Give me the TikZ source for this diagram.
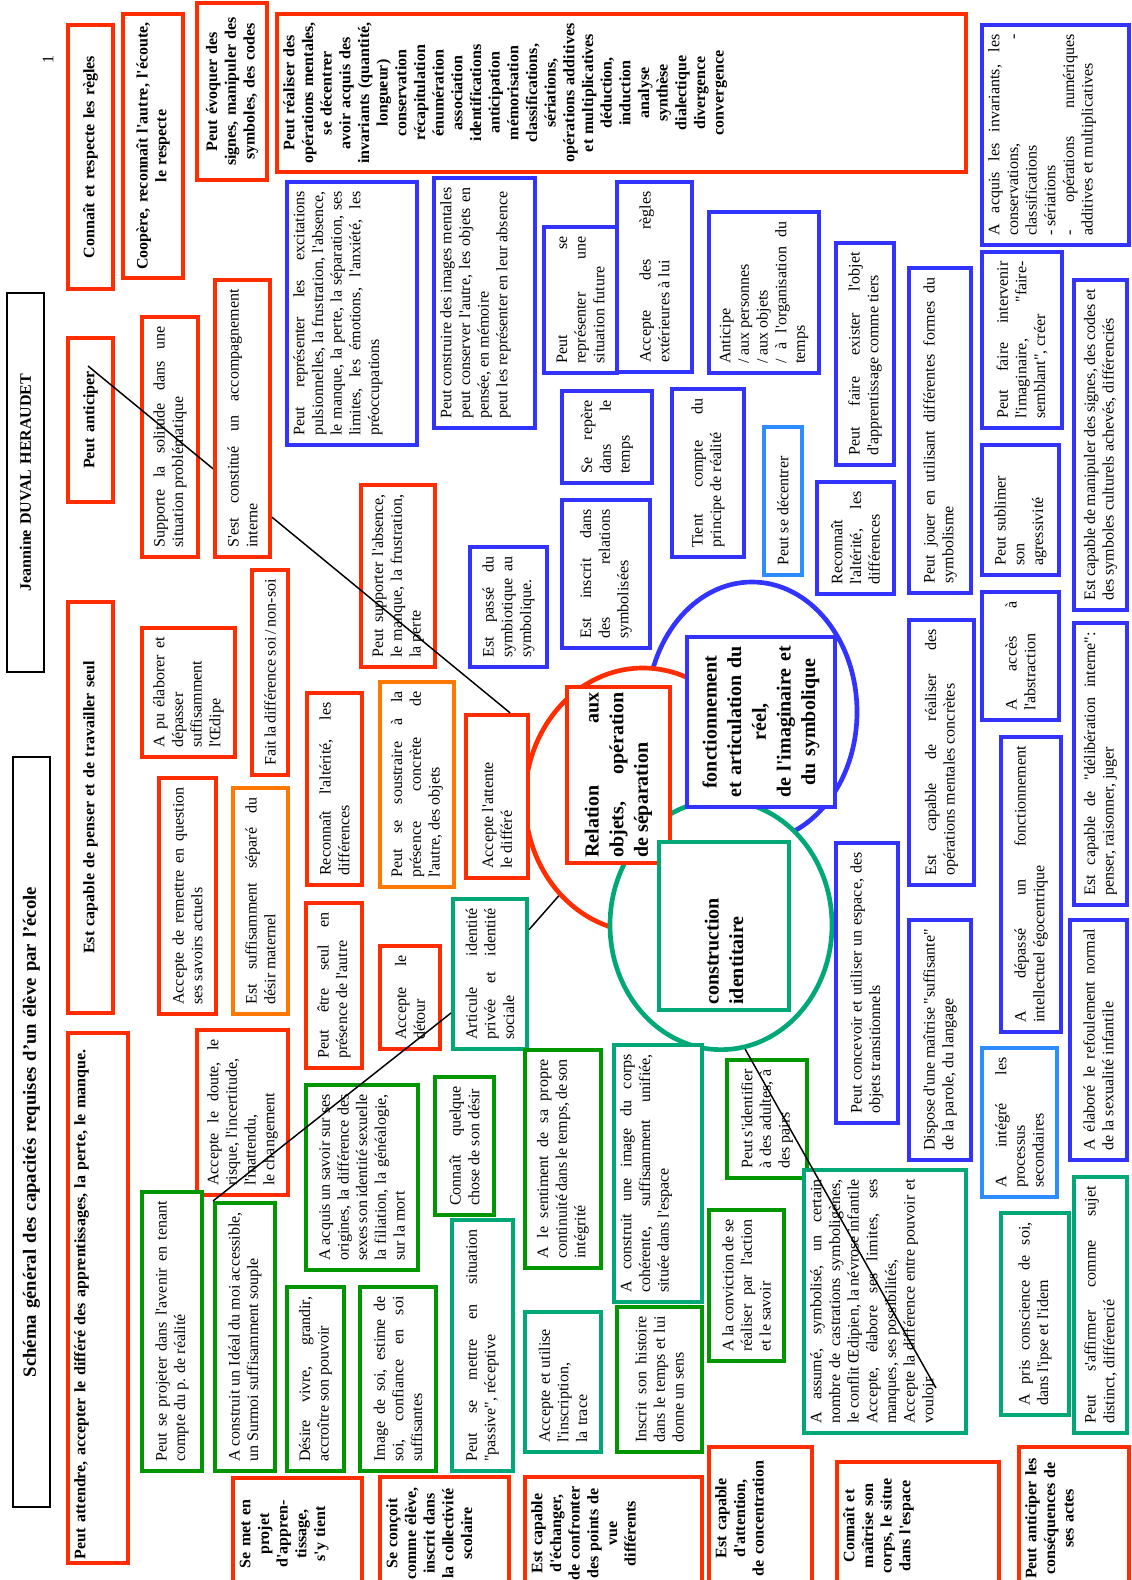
\documentclass[tikz,border=0pt]{standalone}
\usepackage{fontspec}
\setmainfont{Liberation Serif}[Ligatures=TeXOff]
\usepackage{xcolor}
\usetikzlibrary{shapes.geometric}

\definecolor{rouge}{RGB}{255,45,0}
\definecolor{bleu}{RGB}{51,51,255}
\definecolor{bleuclair}{RGB}{45,140,255}
\definecolor{vert}{RGB}{0,150,0}
\definecolor{turquoise}{RGB}{0,168,120}
\definecolor{orangec}{RGB}{255,120,0}

\hyphenpenalty=10000
\exhyphenpenalty=10000
\tolerance=9999

\begin{document}
\begin{tikzpicture}[x=0.75pt, y=-0.75pt,
  marge/.code={\def\bxpad{#1}\tikzset{inner xsep=#1pt}},
  cadre/.style={draw=#1, fill=white, line width=3pt, rotate=90, marge=7, inner ysep=3pt,
    align=justify, font=\fontsize{12}{14}\selectfont},
  entete/.style={cadre=#1, marge=3, align=center, font=\bfseries\fontsize{12}{14}\selectfont},
  coeur/.style={cadre=#1, marge=4, font=\bfseries\fontsize{15}{18.5}\selectfont},
  ovale/.style={ellipse, draw=#1, line width=3.5pt, fill=white, inner sep=0pt},
  trait/.style={draw=black, line width=1.1pt},
  coins/.code n args={4}{%
    \pgfmathsetmacro\bxw{(#4-#2)*0.75}%
    \pgfmathsetmacro\bxh{(#3-#1)*0.75}%
    \pgfmathsetmacro\bxt{\bxw-2*\bxpad}%
    \edef\bxo{at={({(#1+#3)/2},{(#2+#4)/2})},minimum width=\bxw pt,minimum height=\bxh pt,text width=\bxt pt}%
    \expandafter\tikzset\expandafter{\bxo}},
  tcoins/.code n args={4}{%
    \tikzset{coins={#1}{#2}{#3}{#4}}%
    \pgfmathsetmacro\bxd{(#3-#1)*0.75-16}%
    \edef\bxo{text height=10pt,text depth=\bxd pt}%
    \expandafter\tikzset\expandafter{\bxo}}]
\useasboundingbox (0,0) rectangle (1131,1580);
\fill[white] (0,0) rectangle (1131,1580);

% the three circles
\node[ovale=bleu, minimum width=157.5pt, minimum height=195pt] (creel) at (752,712) {};
\node[ovale=rouge, minimum width=177pt, minimum height=198pt] (crel) at (643,800) {};
\node[ovale=turquoise, minimum width=166.5pt, minimum height=187pt] (cident) at (721,925) {};

% title and author
\node[cadre=black, line width=1pt, marge=4, align=center, font=\bfseries\fontsize{14}{16}\selectfont, coins={13}{757}{50}{1507}] (titre) {Schéma général des capacités requises d’un élève par l’école};
\node[cadre=black, line width=1pt, marge=4, align=center, font=\bfseries\fontsize{12}{14}\selectfont, coins={7}{293}{44}{672}] (auteur) {Jeannine DUVAL HERAUDET};
\node[rotate=90, font=\fontsize{12}{14}\selectfont] (page) at (48,60) {1};

% first row: capacities
\node[entete=rouge, coins={68}{25}{113}{289}] (regles) {Connaît et respecte les règles};
\node[entete=rouge, coins={68}{338}{113}{502}] (anticip) {Peut anticiper};
\node[entete=rouge, coins={68}{602}{113}{1013}] (penser) {Est capable de penser et de travailler seul};
\node[entete=rouge, align=left, tcoins={68}{1033}{128}{1563}] (attendre) {Peut attendre, accepter le différé des apprentissages, la perte, le manque.};
\node[entete=rouge, coins={123}{14}{183}{278}] (coopere) {Coopère, reconnaît l'autre, l'écoute,\\le respecte};
\node[entete=rouge, coins={197}{3}{267}{180}] (evoquer) {Peut évoquer des\\signes, manipuler des\\symboles, des codes};
\node[entete=rouge, tcoins={277}{14}{966}{172}] (operations) {Peut réaliser des\\opérations mentales,\\se décentrer\\avoir acquis des\\invariants (quantité,\\longueur)\\conservation\\récapitulation\\énumération\\association\\identifications\\anticipation\\mémorisation\\classifications,\\sériations,\\opérations additives\\et multiplicatives\\déduction,\\induction\\analyse\\synthèse\\dialectique\\divergence\\convergence};

% left side: separation
\node[cadre=rouge, coins={142}{317}{198}{557}] (solitude) {Supporte la solitude dans une situation problématique};
\node[cadre=rouge, coins={142}{628}{235}{757}] (oedipe) {A pu élaborer et\linebreak dépasser suffisamment l'Œdipe};
\node[cadre=rouge, coins={159}{778}{216}{1014}] (remettre) {Accepte de remettre en question ses savoirs actuels};
\node[cadre=rouge, coins={252}{570}{288}{775}] (soinonsoi) {Fait la différence soi / non-soi};
\node[cadre=orangec, coins={233}{788}{288}{1014}] (separe) {Est suffisamment séparé du\linebreak désir maternel};
\node[cadre=rouge, coins={197}{1030}{288}{1195}] (doute) {Accepte le doute, le risque, l'incertitude,\\l'inattendu,\\le changement};
\node[cadre=vert, coins={142}{1192}{202}{1471}] (projeter) {Peut se projeter dans l'avenir en tenant compte du p. de réalité};
\node[cadre=vert, coins={215}{1203}{275}{1471}] (ideal) {A construit un Idéal du moi accessible, un Surmoi suffisamment souple};
\node[entete=rouge, tcoins={233}{1478}{362}{1590}] (projet) {Se met en\\projet\\d'appren-\\tissage,\\s'y tient};

\node[cadre=bleu, tcoins={287}{182}{417}{445}] (excitations) {Peut représenter les excitations pulsionnelles, la frustration, l'absence, le manque, la perte, la séparation, ses limites, les émotions, l'anxiété, les préoccupations};
\node[cadre=rouge, coins={307}{693}{362}{885}] (alterite) {Reconnaît l'altérité, les différences};
\node[cadre=rouge, coins={306}{903}{362}{1068}] (seul) {Peut être seul en présence de l'autre};
\node[cadre=vert, coins={306}{1085}{418}{1270}] (origines) {A acquis un savoir sur ses origines, la différence des sexes son identité sexuelle la filiation, la généalogie, sur la mort};
\node[cadre=vert, coins={287}{1287}{344}{1471}] (vivre) {Désire vivre, grandir, accroître son pouvoir};
\node[cadre=vert, coins={360}{1287}{436}{1471}] (estime) {Image de soi, estime de\linebreak soi, confiance en soi\linebreak suffisantes};
\node[cadre=rouge, coins={361}{485}{435}{667}] (absence) {Peut supporter l'absence, le manque, la frustration, la perte};
\node[cadre=orangec, coins={380}{682}{454}{887}] (soustraire) {Peut se soustraire à la\linebreak présence concrète de\linebreak l'autre, des objets};
\node[cadre=rouge, coins={380}{946}{440}{1049}] (detour) {Accepte le détour};
\node[cadre=vert, coins={435}{1077}{494}{1215}] (desir) {Connaît quelque chose de son désir};
\node[entete=rouge, tcoins={380}{1477}{509}{1590}] (eleve) {Se conçoit\\comme~élève,\\inscrit dans\\la~collectivité\\scolaire};
\node[cadre=turquoise, coins={452}{1220}{513}{1471}] (passive) {Peut se mettre en situation\linebreak "passive", réceptive};

\node[cadre=bleu, tcoins={434}{178}{535}{428}] (images) {Peut construire des images mentales\\peut conserver l'autre, les objets en pensée, en mémoire\\peut les représenter en leur absence};
\node[cadre=bleu, coins={470}{547}{547}{667}] (symbiotique) {Est passé du symbiotique au symbolique.};
\node[cadre=rouge, coins={466}{715}{528}{878}] (attente) {Accepte l'attente\\le différé};
\node[cadre=turquoise, coins={453}{899}{527}{1049}] (articule) {Articule identité privée et identité sociale};
\node[cadre=vert, coins={525}{1050}{601}{1268}] (continuite) {A le sentiment de sa propre continuité dans le temps, de son intégrité};
\node[cadre=turquoise, align=left, coins={525}{1312}{601}{1452}] (trace) {Accepte et utilise\\l'inscription,\\la trace};
\node[entete=rouge, tcoins={525}{1477}{702}{1590}] (echanger) {Est capable\\d'échanger,\\de~confronter\\des points de\\vue\\différents};

% middle: the three poles
\node[cadre=bleu, coins={544}{227}{617}{373}] (futur) {Peut se\linebreak représenter une situation future};
\node[cadre=bleu, coins={617}{182}{692}{372}] (reglesext) {Accepte des règles extérieures à lui};
\node[cadre=bleu, coins={562}{391}{652}{483}] (repere) {Se repère dans le temps};
\node[cadre=bleu, coins={562}{500}{650}{648}] (inscrit) {Est inscrit dans\linebreak des relations\linebreak symbolisées};
\node[coeur=rouge, coins={567}{687}{670}{863}] (relation) {Relation\hfill aux\\objets,\hfill opération\\de séparation};
\node[cadre=turquoise, tcoins={614}{1045}{702}{1302}] (corps) {A construit une image du corps cohérente, suffisamment unifiée, située dans l'espace};
\node[cadre=vert, coins={617}{1307}{702}{1452}] (histoire) {Inscrit son histoire dans le temps et lui donne un sens};

\node[cadre=bleu, coins={709}{212}{819}{373}] (organisation) {Anticipe\\/ aux personnes\\/ aux objets\\/ à l'organisation du temps};
\node[cadre=bleu, coins={672}{389}{744}{557}] (realite) {Tient compte du principe de réalité};
\node[coeur=bleu, align=center, coins={687}{637}{835}{807}] (fonction) {fonctionnement\\et articulation du\\réel,\\de l'imaginaire et\\du symbolique};
\node[coeur=turquoise, align=left, coins={659}{842}{789}{1010}] (construction) {construction identitaire};
\node[cadre=vert, coins={727}{1060}{807}{1178}] (identifier) {Peut s'identifier à des adultes, à des pairs};
\node[cadre=vert, coins={709}{1210}{784}{1361}] (conviction) {A la conviction de se réaliser par l'action et le savoir};
\node[entete=rouge, tcoins={709}{1447}{812}{1590}] (attention) {Est capable\\d'attention,\\de~concentration};

% right side: symbolic functioning
\node[cadre=bleuclair, coins={764}{427}{802}{575}] (decentrer) {Peut se décentrer};
\node[cadre=bleu, coins={836}{243}{894}{465}] (exister) {Peut faire exister l'objet d'apprentissage comme tiers};
\node[cadre=bleu, coins={817}{482}{894}{594}] (differences) {Reconnaît l'altérité, les différences};
\node[cadre=bleu, coins={836}{843}{898}{1123}] (transition) {Peut concevoir et utiliser un espace, des objets transitionnels};
\node[cadre=turquoise, tcoins={804}{1170}{966}{1433}] (assume) {A assumé, symbolisé, un certain nombre de castrations symboligènes, le conflit Œdipien, la névrose infantile\\Accepte, élabore ses limites, ses manques, ses possibilités,\\Accepte la différence entre pouvoir et vouloir};
\node[entete=rouge, tcoins={837}{1462}{999}{1590}] (espace) {Connaît et\\maîtrise son\\corps, le situe\\dans l'espace};

\node[cadre=bleu, coins={909}{268}{971}{593}] (jouer) {Peut jouer en utilisant différentes formes du symbolisme};
\node[cadre=bleu, coins={909}{620}{974}{885}] (concretes) {Est capable de réaliser des\linebreak opérations mentales concrètes};
\node[cadre=bleu, coins={909}{920}{971}{1160}] (langage) {Dispose d'une maîtrise "suffisante" de la parole, du langage};

\node[cadre=bleu, tcoins={982}{25}{1129}{245}] (invariants) {A acquis les invariants, les conservations,\hfill -\\classifications\\- sériations\\- opérations numériques additives et multiplicatives};
\node[cadre=bleu, coins={982}{252}{1062}{428}] (imaginaire) {Peut faire intervenir l'imaginaire, "faire-\linebreak semblant", créer};
\node[cadre=bleu, align=left, coins={982}{445}{1059}{575}] (sublimer) {Peut sublimer\\son\\agressivité};
\node[cadre=bleu, coins={982}{592}{1059}{720}] (abstraction) {A accès à l'abstraction};
\node[cadre=bleu, coins={1001}{737}{1061}{1032}] (egocentrique) {A dépassé un fonctionnement\linebreak intellectuel égocentrique};
\node[cadre=bleuclair, coins={982}{1048}{1057}{1197}] (secondaires) {A intégré les\linebreak processus\linebreak secondaires};
\node[cadre=turquoise, coins={1001}{1213}{1069}{1415}] (conscience) {A pris conscience de soi, dans l'ipse et l'idem};
\node[entete=rouge, tcoins={1019}{1447}{1129}{1590}] (consequences) {Peut anticiper les\\conséquences de\\ses actes};

\node[cadre=bleu, coins={1074}{280}{1127}{610}] (signes) {Est capable de manipuler des signes, des codes et des symboles culturels achevés, différenciés};
\node[cadre=bleu, coins={1074}{623}{1127}{905}] (deliberation) {Est capable de "délibération interne": penser, raisonner, juger};
\node[cadre=bleu, coins={1070}{920}{1127}{1160}] (refoulement) {A élaboré le refoulement normal\linebreak de la sexualité infantile};
\node[cadre=turquoise, coins={1074}{1177}{1127}{1433}] (affirmer) {Peut s'affirmer comme sujet\linebreak distinct, différencié};

% connecting strokes
\coordinate (debut) at (88,366);
\coordinate (fin) at (936,1388);
\draw[trait] (debut) -- (attente.-9);
\draw[trait] (articule) -- (crel);
\draw[trait] (ideal.north east) -- (articule.135);
\draw[trait] (cident.-79) -- (fin);

% drawn last: hides the first stroke
\node[cadre=rouge, coins={215}{280}{270}{557}] (accomp) {S'est constitué un accompagnement interne};
\end{tikzpicture}
\end{document}
